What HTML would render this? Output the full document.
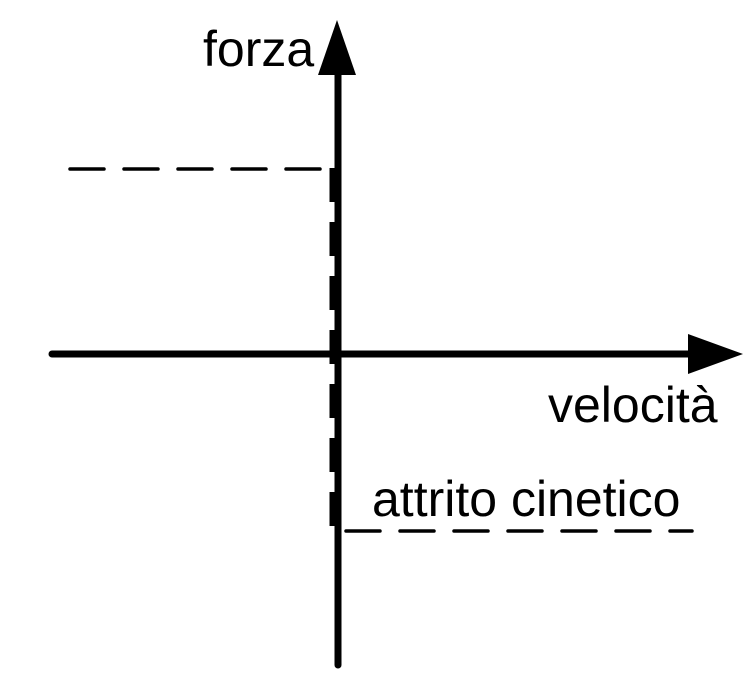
<!DOCTYPE html>
<html><head><meta charset="utf-8"><style>html,body{margin:0;padding:0;background:#fff}svg{display:block}</style></head>
<body>
<svg width="745" height="684" viewBox="0 0 745 684" xmlns="http://www.w3.org/2000/svg">
<g stroke="#000" fill="none" stroke-linecap="round">
<line x1="70" y1="169" x2="330" y2="169" stroke-width="3.5" stroke-dasharray="34 20"/>
<line x1="332" y1="168" x2="332" y2="530" stroke-width="5" stroke-dasharray="34 20" stroke-linecap="butt"/>
<line x1="346" y1="531" x2="692" y2="531" stroke-width="3.5" stroke-dasharray="34 20"/>
<line x1="338" y1="70" x2="338" y2="665" stroke-width="7"/>
<line x1="52" y1="354" x2="695" y2="354" stroke-width="7"/>
</g>
<polygon points="337,20 318,75 356,75" fill="#000"/>
<polygon points="743,354 688,334 688,374" fill="#000"/>
<g font-family="Liberation Sans, Arial, sans-serif" font-size="50" fill="#000">
<text x="203" y="66">forza</text>
<text x="548" y="422">velocità</text>
<text x="372" y="516">attrito cinetico</text>
</g>
</svg>
</body></html>
